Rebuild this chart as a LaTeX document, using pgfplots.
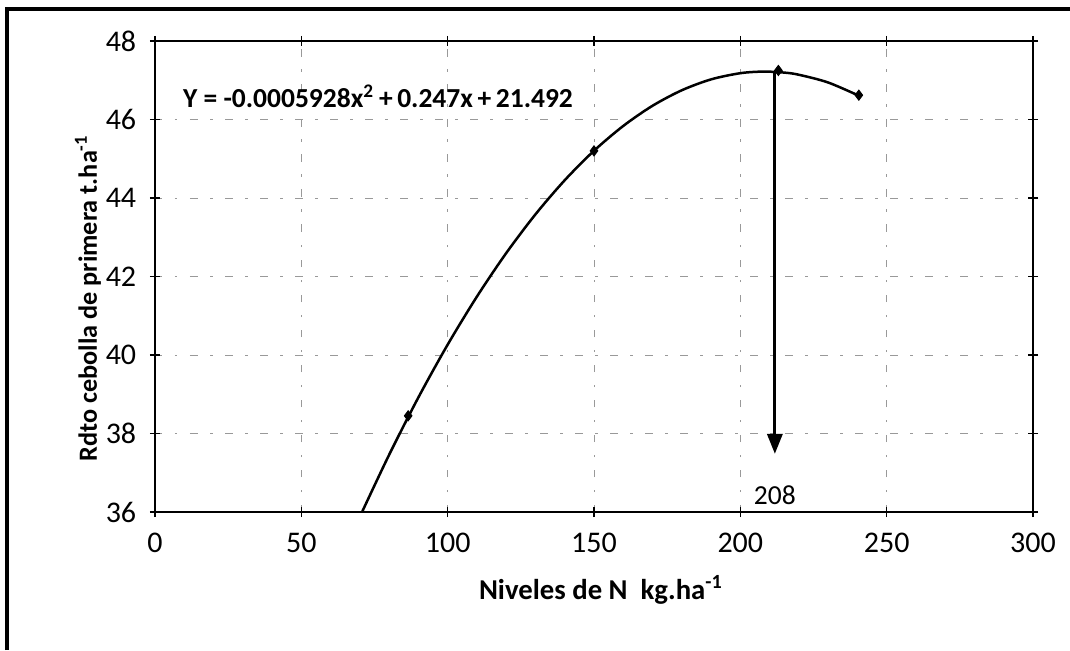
\documentclass[border=0pt]{standalone}
\usepackage{fontspec}
\setmainfont{Carlito}
\usepackage{pgfplots}
\pgfplotsset{compat=1.18}
\usetikzlibrary{arrows.meta}

\begin{document}
\begin{tikzpicture}
\useasboundingbox (-62pt,-55.2pt) rectangle (366pt,204.8pt);
% outer chart frame (only left and top edges visible)
\draw[black, line width=1.3pt] (-59.2pt,-55.2pt) -- (-59.2pt,201.2pt) -- (366pt,201.2pt);

\begin{axis}[
    at={(0,0)}, anchor=south west,
    width=351.2pt, height=188.4pt, scale only axis,
    xmin=0, xmax=300, ymin=36, ymax=48,
    xtick={0,50,100,150,200,250,300},
    ytick={36,38,40,42,44,46,48},
    tick align=center, major tick length=4pt,
    axis line style={black, line width=0.9pt},
    tick style={black, line width=0.6pt},
    grid=major,
    major grid style={black!40, line width=0.4pt, dash pattern=on 3pt off 5pt on 1pt off 5pt},
    /pgf/number format/assume math mode=true,
    tick label style={font=\fontsize{12}{14}\selectfont},
    xticklabel style={yshift=-3pt},
    yticklabel style={xshift=-2pt},
    xlabel={\bfseries Niveles de N\ \ kg.ha\textsuperscript{-1}},
    ylabel={\bfseries Rdto cebolla de primera t.ha\textsuperscript{-1}},
    xlabel style={font=\fontsize{11.5}{13}\selectfont,
                  at={(axis description cs:0.508,0)}, anchor=center, yshift=-31pt},
    ylabel style={font=\fontsize{10.5}{12}\selectfont,
                  at={(axis description cs:-0.0763,0.454)}, anchor=center},
    clip=false,
]
% fitted quadratic curve
\addplot[black, line width=1pt, smooth] coordinates {
  (70.75,36.0) (80,37.458) (90,38.920) (100,40.264) (110,41.489)
  (120,42.596) (130,43.584) (140,44.453) (150,45.204) (160,45.836)
  (170,46.350) (180,46.745) (190,47.022) (200,47.180) (208,47.221)
  (215,47.195) (220,47.140) (230,46.943) (241,46.589)};
% observed points
\addplot[only marks, mark=diamond*, mark size=2pt, black] coordinates {
  (86.5,38.45) (150,45.2) (213,47.25) (240.5,46.62)};
% arrow to optimum
\addplot[black, line width=1.3pt, -{Triangle[width=6pt,length=8pt]}] coordinates {
  (211.8,47.22) (211.8,37.48)};
\node[font=\fontsize{11}{13}\selectfont] at (axis cs:211.8,36.43) {208};
\node[font=\bfseries\fontsize{11}{13}\selectfont] at (axis cs:76.2,46.6)
  {Y = -0.0005928x\textsuperscript{2}\,+\,0.247x\,+\,21.492};
\end{axis}
\end{tikzpicture}
\end{document}
